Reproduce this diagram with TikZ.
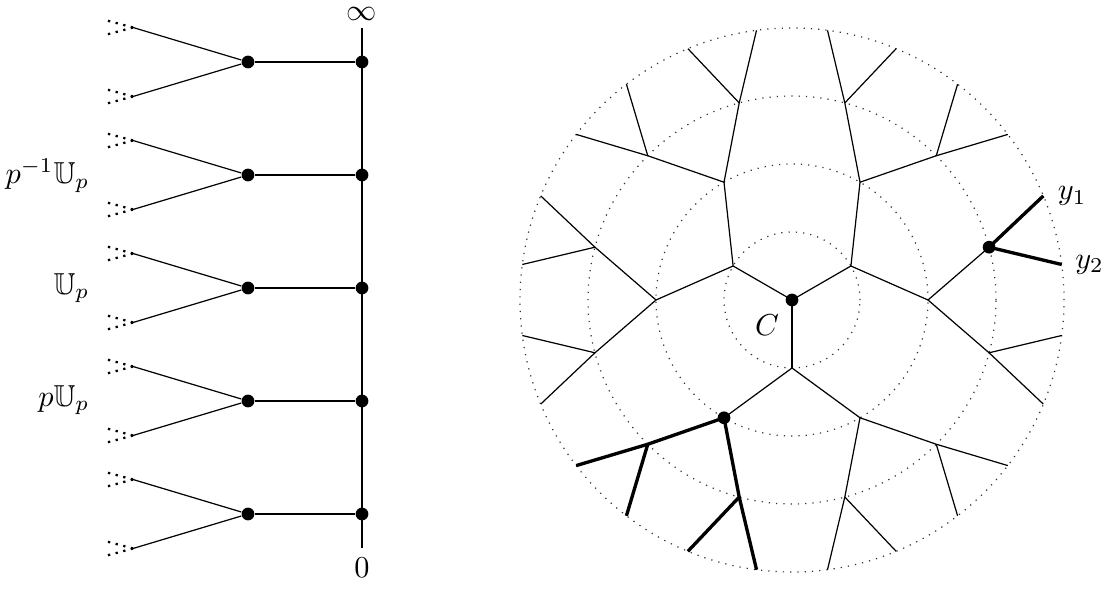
\documentclass[tikz,border=0pt]{standalone}
\usepackage{amssymb}
\usetikzlibrary{calc}
\begin{document}
\begin{tikzpicture}[x=0.33pt,y=-0.33pt,
  dot/.style={circle,fill=black,inner sep=0pt,minimum size=4.2pt},
  boldedge/.style={line width=1.1pt},
  ring/.style={dotted,line width=0.4pt,black!80},
  stub/.style={line width=0.75pt,dash pattern=on 0.75pt off 1.85pt},
  lab/.style={anchor=east,inner sep=0pt}]
\useasboundingbox (0,0) rectangle (1109,590);

% ---------- left: the line with hanging trees ----------
\node[inner sep=0pt] (inf) at (362,14) {$\infty$};
\node (zero) at (362,568) {$0$};
\draw ([yshift=-2.4pt]inf.south) -- (zero);
\foreach \k in {0,...,4} {
  \pgfmathsetmacro\yrow{62+113*\k}
  \node[dot] (r\k) at (362,\yrow) {};
  \node[dot] (b\k) at (248,\yrow) {};
  \coordinate (u\k) at (133,\yrow-34.5);
  \coordinate (d\k) at (133,\yrow+34.5);
  \coordinate (uu\k) at (107,\yrow-41.5);
  \coordinate (ud\k) at (107,\yrow-27.5);
  \coordinate (du\k) at (107,\yrow+27.5);
  \coordinate (dd\k) at (107,\yrow+41.5);
  \draw (b\k) -- (r\k);
  \draw (b\k) -- (u\k);
  \draw (b\k) -- (d\k);
  \draw[stub] (u\k) -- (uu\k);
  \draw[stub] (u\k) -- (ud\k);
  \draw[stub] (d\k) -- (du\k);
  \draw[stub] (d\k) -- (dd\k);
}
\node[lab] (l1) at (90,176) {$p^{-1}\mathbb{U}_p$};
\node[lab] (l2) at (90,288) {$\mathbb{U}_p$};
\node[lab] (l3) at (90,400) {$p\mathbb{U}_p$};

% ---------- right: the tree in the disk ----------
\begin{scope}[shift={(792,300)},yscale=-1]
  \foreach \rad in {68,136,204,272} \draw[ring] (0,0) circle (\rad);
  \coordinate (C) at (0,0);
  \foreach \i in {0,1,2} {
    \pgfmathsetmacro\angA{30+120*\i}
    \coordinate (n\i) at (\angA:68);
    \draw (C) -- (n\i);
    \foreach \s/\sg in {l/-1,r/1} {
      \pgfmathsetmacro\angB{\angA+30*\sg}
      \coordinate (n\i\s) at (\angB:136);
      \draw (n\i) -- (n\i\s);
      \foreach \t/\tg in {l/-1,r/1} {
        \pgfmathsetmacro\angC{\angB+15*\tg}
        \coordinate (n\i\s\t) at (\angC:204);
        \draw (n\i\s) -- (n\i\s\t);
        \foreach \u/\ug in {l/-1,r/1} {
          \pgfmathsetmacro\angD{\angC+7.5*\ug}
          \coordinate (n\i\s\t\u) at (\angD:272);
          \draw (n\i\s\t) -- (n\i\s\t\u);
        }
      }
    }
  }
  % bold subtrees
  \draw[boldedge] (n2l) -- (n2ll) -- (n2lll);
  \draw[boldedge] (n2ll) -- (n2llr);
  \draw[boldedge] (n2l) -- (n2lr) -- (n2lrl);
  \draw[boldedge] (n2lr) -- (n2lrr);
  \draw[boldedge] (n0lr) -- (n0lrl);
  \draw[boldedge] (n0lr) -- (n0lrr);
  % dots
  \node[dot] (Cdot) at (C) {};
  \node[dot] (xdot) at (n2l) {};
  \node[dot] (ydot) at (n0lr) {};
  % labels
  \node (Clab) at (-25,-25) {$C$};
  \node[anchor=west,inner sep=0pt] (y1) at ($(n0lrr)+(14,0)$) {$y_1$};
  \node[anchor=west,inner sep=0pt] (y2) at ($(n0lrl)+(13,0)$) {$y_2$};
\end{scope}
\end{tikzpicture}
\end{document}
